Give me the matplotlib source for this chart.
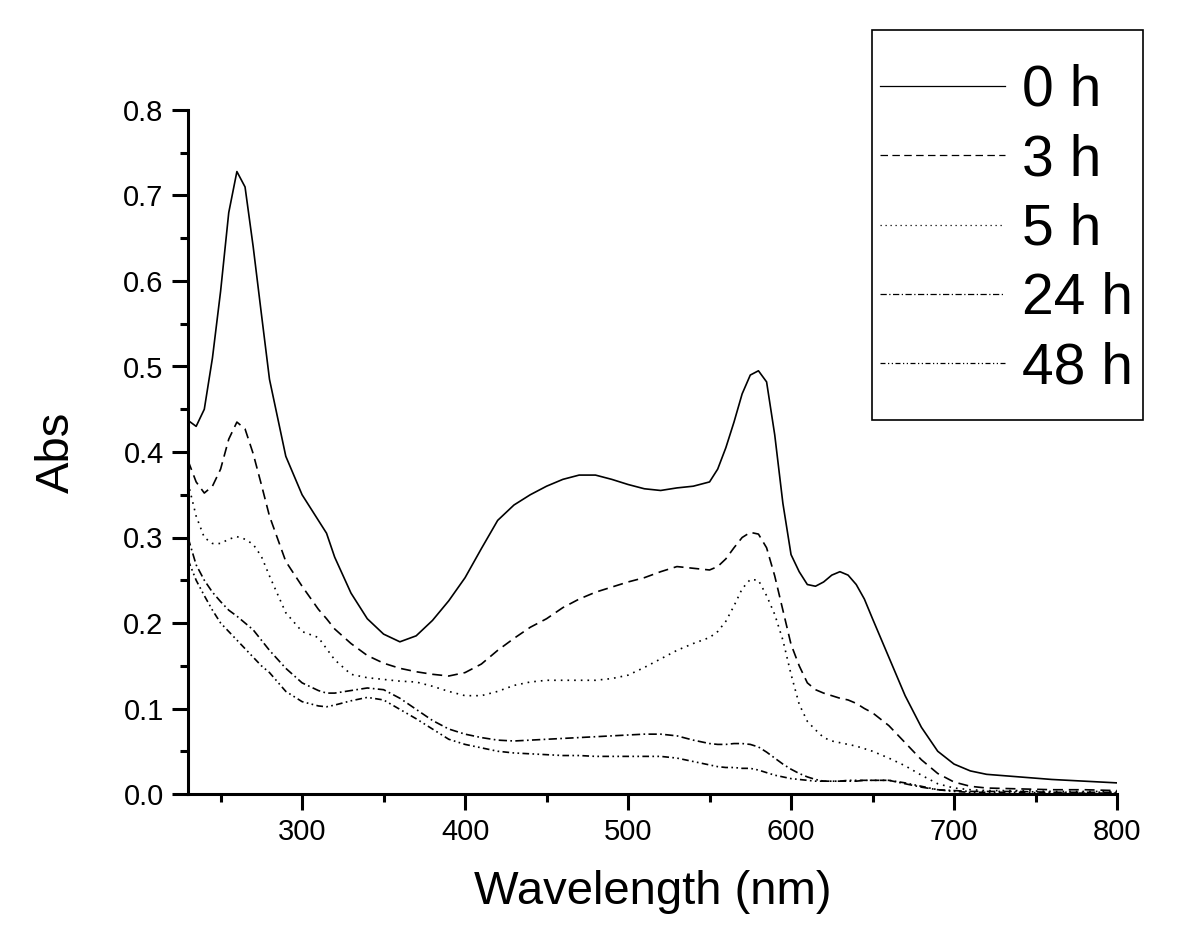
import matplotlib
matplotlib.use("Agg")
import matplotlib.pyplot as plt
from matplotlib.patches import Rectangle
from matplotlib.ticker import MultipleLocator

plt.rcParams['font.family'] = ['Liberation Sans', 'DejaVu Sans']

# wavelength grid (nm)
wl = [230, 235, 240, 245, 250, 255, 260, 265, 270, 275, 280, 290, 300, 310, 315,
      320, 330, 340, 350, 360, 370, 380, 390, 400, 410, 420, 430, 440, 450, 460,
      470, 480, 490, 500, 510, 520, 530, 540, 550, 555, 560, 565, 570, 575, 580,
      585, 590, 595, 600, 605, 610, 615, 620, 625, 630, 635, 640, 645, 650, 660,
      670, 680, 690, 700, 710, 720, 740, 760, 780, 800]

abs_0h = [0.437, 0.430, 0.450, 0.510, 0.588, 0.680, 0.728, 0.710, 0.640, 0.562, 0.485,
          0.395, 0.350, 0.320, 0.305, 0.277, 0.235, 0.205, 0.187, 0.178, 0.185, 0.203,
          0.226, 0.253, 0.287, 0.320, 0.338, 0.350, 0.360, 0.368, 0.373, 0.373, 0.368,
          0.362, 0.357, 0.355, 0.358, 0.360, 0.365, 0.380, 0.405, 0.435, 0.468, 0.490,
          0.495, 0.482, 0.420, 0.340, 0.280, 0.260, 0.245, 0.243, 0.248, 0.256, 0.260,
          0.256, 0.245, 0.228, 0.205, 0.160, 0.115, 0.078, 0.050, 0.035, 0.027, 0.023,
          0.020, 0.017, 0.015, 0.013]

abs_3h = [0.390, 0.365, 0.352, 0.360, 0.380, 0.415, 0.435, 0.427, 0.398, 0.362, 0.325,
          0.272, 0.243, 0.216, 0.205, 0.193, 0.176, 0.162, 0.153, 0.147, 0.143, 0.140,
          0.138, 0.142, 0.152, 0.168, 0.182, 0.195, 0.205, 0.218, 0.228, 0.236, 0.242,
          0.248, 0.253, 0.260, 0.266, 0.264, 0.262, 0.266, 0.275, 0.288, 0.300, 0.306,
          0.304, 0.288, 0.255, 0.215, 0.175, 0.150, 0.130, 0.122, 0.118, 0.115, 0.112,
          0.110, 0.106, 0.100, 0.095, 0.080, 0.060, 0.040, 0.024, 0.014, 0.009, 0.007,
          0.006, 0.005, 0.005, 0.004]

abs_5h = [0.364, 0.325, 0.300, 0.293, 0.293, 0.298, 0.301, 0.298, 0.292, 0.278, 0.255,
          0.212, 0.190, 0.183, 0.170, 0.157, 0.140, 0.136, 0.134, 0.132, 0.131, 0.126,
          0.120, 0.115, 0.115, 0.120, 0.127, 0.131, 0.133, 0.133, 0.133, 0.133, 0.135,
          0.139, 0.148, 0.158, 0.168, 0.176, 0.183, 0.190, 0.202, 0.220, 0.240, 0.251,
          0.250, 0.232, 0.210, 0.180, 0.140, 0.105, 0.085, 0.075, 0.066, 0.062, 0.060,
          0.058, 0.056, 0.053, 0.050, 0.042, 0.033, 0.022, 0.012, 0.007, 0.005, 0.004,
          0.004, 0.003, 0.003, 0.003]

abs_24h = [0.300, 0.268, 0.250, 0.236, 0.225, 0.215, 0.208, 0.200, 0.192, 0.180, 0.168,
           0.147, 0.130, 0.121, 0.118, 0.118, 0.121, 0.124, 0.122, 0.112, 0.099, 0.086,
           0.076, 0.070, 0.066, 0.063, 0.062, 0.063, 0.064, 0.065, 0.066, 0.067, 0.068,
           0.069, 0.070, 0.070, 0.068, 0.063, 0.059, 0.058, 0.058, 0.059, 0.059, 0.058,
           0.055, 0.049, 0.042, 0.035, 0.029, 0.024, 0.020, 0.017, 0.015, 0.015, 0.015,
           0.015, 0.015, 0.016, 0.016, 0.016, 0.012, 0.008, 0.005, 0.004, 0.003, 0.003,
           0.003, 0.002, 0.002, 0.002]

abs_48h = [0.274, 0.250, 0.232, 0.215, 0.200, 0.190, 0.180, 0.170, 0.160, 0.150, 0.142,
           0.120, 0.108, 0.103, 0.102, 0.104, 0.109, 0.113, 0.110, 0.099, 0.088, 0.076,
           0.064, 0.058, 0.054, 0.050, 0.048, 0.047, 0.046, 0.045, 0.045, 0.044, 0.044,
           0.044, 0.044, 0.044, 0.042, 0.038, 0.034, 0.032, 0.031, 0.031, 0.030, 0.030,
           0.028, 0.025, 0.022, 0.020, 0.018, 0.017, 0.016, 0.015, 0.015, 0.015, 0.015,
           0.016, 0.016, 0.016, 0.016, 0.016, 0.013, 0.009, 0.005, 0.003, 0.002, 0.002,
           0.002, 0.001, 0.001, 0.001]

labels = ['0 h', '3 h', '5 h', '24 h', '48 h']

fig = plt.figure(figsize=(12, 9.38), dpi=100)
ax = fig.add_axes([188/1200, 1-794/938, (1117-188)/1200, (794-110)/938])

styles = ['-', (0, (6, 3.5)), (0, (1, 3)), (0, (5, 2, 1, 2)), (0, (4, 2, 1, 2, 1, 2))]
for ys, ls, lab in zip([abs_0h, abs_3h, abs_5h, abs_24h, abs_48h], styles, labels):
    ax.plot(wl, ys, color='black', lw=1.2, linestyle=ls, label=lab)

ax.set_xlim(230, 800)
ax.set_ylim(0, 0.8)
ax.xaxis.set_major_locator(MultipleLocator(100))
ax.xaxis.set_minor_locator(MultipleLocator(50))
ax.yaxis.set_major_locator(MultipleLocator(0.1))
ax.yaxis.set_minor_locator(MultipleLocator(0.05))
ax.set_yticklabels([f'{v:.1f}' for v in ax.get_yticks()])

for s in ['top', 'right']:
    ax.spines[s].set_visible(False)
for s in ['left', 'bottom']:
    ax.spines[s].set_linewidth(2.2)
ax.tick_params(which='major', length=11.5, width=2.2, direction='out',
               labelsize=21, pad=6)
ax.tick_params(which='minor', length=5.8, width=2.2, direction='out')

ax.set_xlabel('Wavelength (nm)', fontsize=34, labelpad=17)
ax.set_ylabel('Abs', fontsize=34, labelpad=32)

# legend box drawn separately so its padding can match the original
fig.patches.append(Rectangle((872/1200, 1-420/938), 271/1200, 390/938,
                             transform=fig.transFigure, fill=False,
                             edgecolor='black', linewidth=1.2))
leg = fig.legend(loc='upper left', bbox_to_anchor=(874/1200, 1-58/938),
                 fontsize=41, frameon=False, handlelength=2.2,
                 handletextpad=0.3, borderpad=0.1, labelspacing=0.27,
                 borderaxespad=0)
for h in leg.get_lines():
    h.set_linewidth(0.9)

fig.savefig('out.png', dpi=100)
